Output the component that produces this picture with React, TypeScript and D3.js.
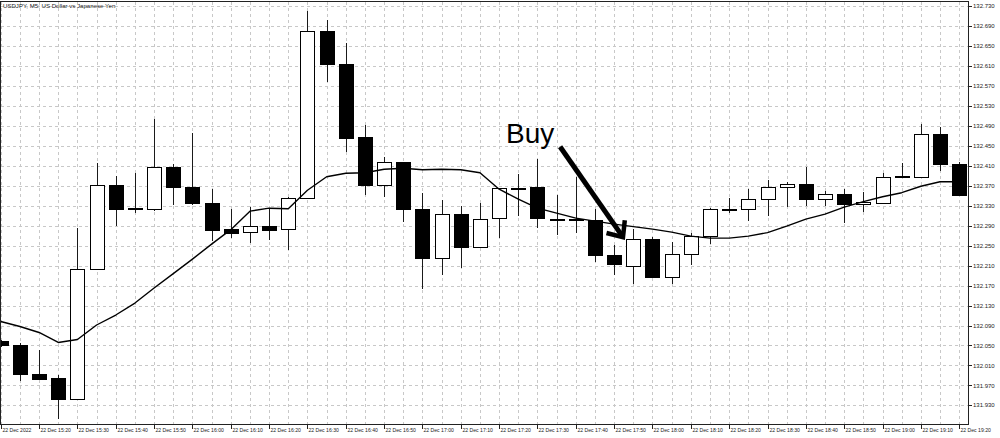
import React from "react";
import * as d3 from "d3";

const W = 1000;
const H = 438;

// USDJPY M5 candles, 22 Dec 2022 15:10 .. 19:20
const opens = [
  132.058, 132.051, 131.992, 131.984, 131.942, 132.203, 132.371, 132.325, 132.323, 132.407,
  132.367, 132.335, 132.283, 132.277, 132.289, 132.283, 132.346, 132.680, 132.614, 132.468,
  132.371, 132.418, 132.323, 132.225, 132.313, 132.247, 132.305, 132.365, 132.367, 132.303,
  132.303, 132.301, 132.231, 132.210, 132.263, 132.188, 132.233, 132.270, 132.323, 132.323,
  132.343, 132.367, 132.373, 132.343, 132.353, 132.333, 132.336, 132.388, 132.388, 132.473,
  132.413,
];
const highs = [
  132.061, 132.055, 132.041, 131.991, 132.285, 132.415, 132.389, 132.395, 132.503, 132.413,
  132.475, 132.363, 132.323, 132.327, 132.324, 132.347, 132.719, 132.702, 132.655, 132.492,
  132.427, 132.418, 132.356, 132.341, 132.329, 132.336, 132.365, 132.394, 132.423, 132.351,
  132.388, 132.323, 132.252, 132.283, 132.267, 132.258, 132.276, 132.325, 132.345, 132.363,
  132.381, 132.378, 132.408, 132.360, 132.363, 132.358, 132.395, 132.415, 132.494, 132.488,
  132.418,
];
const lows = [
  132.047, 131.979, 131.982, 131.902, 131.941, 132.203, 132.289, 132.315, 132.319, 132.331,
  132.331, 132.259, 132.266, 132.255, 132.261, 132.241, 132.346, 132.578, 132.438, 132.351,
  132.348, 132.298, 132.163, 132.191, 132.205, 132.247, 132.265, 132.309, 132.285, 132.271,
  132.276, 132.218, 132.191, 132.173, 132.188, 132.173, 132.211, 132.253, 132.315, 132.300,
  132.309, 132.328, 132.329, 132.329, 132.295, 132.318, 132.336, 132.388, 132.388, 132.400,
  132.351,
];
const closes = [
  132.050, 131.993, 131.983, 131.943, 132.203, 132.371, 132.324, 132.324, 132.407, 132.367,
  132.335, 132.282, 132.276, 132.289, 132.282, 132.346, 132.680, 132.614, 132.465, 132.371,
  132.418, 132.323, 132.225, 132.313, 132.247, 132.303, 132.365, 132.366, 132.305, 132.303,
  132.303, 132.231, 132.213, 132.263, 132.188, 132.233, 132.270, 132.323, 132.323, 132.343,
  132.367, 132.373, 132.343, 132.353, 132.333, 132.338, 132.388, 132.389, 132.473, 132.413,
  132.351,
];
// moving average values, one per candle
const maValues = [
  132.098, 132.088, 132.076, 132.056, 132.062, 132.091, 132.111, 132.135, 132.165, 132.194,
  132.223, 132.253, 132.282, 132.319, 132.325, 132.324, 132.361, 132.388, 132.395, 132.396,
  132.403, 132.405, 132.402, 132.403, 132.402, 132.396, 132.363, 132.343, 132.325, 132.315,
  132.305, 132.299, 132.293, 132.288, 132.283, 132.277, 132.269, 132.265, 132.265, 132.269,
  132.276, 132.289, 132.303, 132.313, 132.327, 132.338, 132.348, 132.356, 132.369, 132.378,
  132.378,
];

const priceTicks = [
  132.73, 132.69, 132.65, 132.61, 132.57, 132.53, 132.49, 132.45, 132.41, 132.37, 132.33,
  132.29, 132.25, 132.21, 132.17, 132.13, 132.09, 132.05, 132.01, 131.97, 131.93,
];
const timeTickLabels = [
  "22 Dec 2022", "22 Dec 15:20", "22 Dec 15:30", "22 Dec 15:40", "22 Dec 15:50",
  "22 Dec 16:00", "22 Dec 16:10", "22 Dec 16:20", "22 Dec 16:30", "22 Dec 16:40",
  "22 Dec 16:50", "22 Dec 17:00", "22 Dec 17:10", "22 Dec 17:20", "22 Dec 17:30",
  "22 Dec 17:40", "22 Dec 17:50", "22 Dec 18:00", "22 Dec 18:10", "22 Dec 18:20",
  "22 Dec 18:30", "22 Dec 18:40", "22 Dec 18:50", "22 Dec 19:00", "22 Dec 19:10",
  "22 Dec 19:20",
];

// annotation (minutes after 15:10, price)
const buyText = { min: 131.8, price: 132.455, label: "Buy" };
const buyArrow = { fromMin: 145.9, fromPrice: 132.448, toMin: 162.3, toPrice: 132.267 };

const title = "USDJPY, M5:  US Dollar vs Japanese Yen";

export default function App() {
  const start = new Date(2022, 11, 22, 15, 10);
  const end = new Date(2022, 11, 22, 19, 20);
  const plotLeft = 0.5;
  const plotTop = 1.5;
  const plotRight = 968.5;
  const plotBottom = 424.5;

  const x = d3.scaleTime().domain([start, end]).range([0.75, 959.2]);
  const y = d3.scaleLinear().domain([131.8927, 132.74]).range([424, 1]);
  const tAt = (i: number) => d3.timeMinute.offset(start, 5 * i);
  const tMin = (m: number) => new Date(start.getTime() + m * 60000);
  const crisp = (v: number) => Math.round(v) + 0.5;

  const candleIdx = d3.range(opens.length);
  const gridTimes = candleIdx.map(tAt);
  const labelTimes = x.ticks(d3.timeMinute.every(10) as any);

  const maLine = d3
    .line<number>()
    .x((_, i) => x(tAt(i)))
    .y((d) => y(d))(maValues) as string;

  // arrow geometry
  const ax1 = x(tMin(buyArrow.fromMin));
  const ay1 = y(buyArrow.fromPrice);
  const ax2 = x(tMin(buyArrow.toMin));
  const ay2 = y(buyArrow.toPrice);
  const back = Math.atan2(ay1 - ay2, ax1 - ax2);
  const headLen = 17;
  const headAng = (41 * Math.PI) / 180;
  const h1 = [ax2 + headLen * Math.cos(back - headAng), ay2 + headLen * Math.sin(back - headAng)];
  const h2 = [ax2 + headLen * Math.cos(back + headAng), ay2 + headLen * Math.sin(back + headAng)];

  const gridColor = "#c8c8c8";

  return (
    <svg
      width={W}
      height={H}
      style={{ position: "fixed", left: 0, top: 0, background: "#fff" }}
      fontFamily="'Liberation Sans', Arial, sans-serif"
    >
      <rect x={0} y={0} width={W} height={H} fill="#fff" />
      {/* grid */}
      <g stroke={gridColor} strokeWidth={1} strokeDasharray="3,3" shapeRendering="crispEdges">
        {priceTicks.map((p) => (
          <line key={"h" + p} x1={plotLeft} x2={plotRight} y1={crisp(y(p))} y2={crisp(y(p))} />
        ))}
        {gridTimes.map((t, i) => (
          <line key={"v" + i} x1={crisp(x(t))} x2={crisp(x(t))} y1={plotTop} y2={plotBottom} />
        ))}
      </g>

      {/* candles */}
      <g shapeRendering="crispEdges">
        {candleIdx.map((i) => {
          const cx = crisp(x(tAt(i)));
          const o = opens[i];
          const c = closes[i];
          const bull = c >= o;
          const yTop = Math.round(y(Math.max(o, c)));
          const yBot = Math.round(y(Math.min(o, c)));
          const hgt = Math.max(yBot - yTop, 1);
          return (
            <g key={"c" + i}>
              <line x1={cx} x2={cx} y1={y(highs[i])} y2={y(lows[i])} stroke="#1a1a1a" strokeWidth={1} />
              <rect
                x={cx - 7}
                y={yTop + 0.5}
                width={14}
                height={hgt}
                fill={bull ? "#fff" : "#000"}
                stroke="#000"
                strokeWidth={1}
              />
            </g>
          );
        })}
      </g>

      {/* moving average */}
      <path d={maLine} fill="none" stroke="#000" strokeWidth={1.4} strokeLinejoin="round" />

      {/* frame */}
      <rect
        x={plotLeft}
        y={plotTop}
        width={plotRight - plotLeft}
        height={plotBottom - plotTop}
        fill="none"
        stroke="#222"
        strokeWidth={1}
        shapeRendering="crispEdges"
      />

      {/* right axis */}
      <g fontSize={6} fill="#222">
        {priceTicks.map((p) => (
          <g key={"pt" + p}>
            <line x1={plotRight} x2={plotRight + 3} y1={crisp(y(p))} y2={crisp(y(p))} stroke="#222" shapeRendering="crispEdges" />
            <text x={plotRight + 4.5} y={y(p)} dy="0.35em">
              {p.toFixed(3)}
            </text>
          </g>
        ))}
      </g>

      {/* bottom axis */}
      <g fontSize={5.1} fill="#222">
        {labelTimes.map((t, i) => (
          <g key={"tt" + i}>
            <line x1={crisp(x(t))} x2={crisp(x(t))} y1={plotBottom} y2={plotBottom + 4} stroke="#222" shapeRendering="crispEdges" />
            <text x={crisp(x(t)) + 1} y={431.8}>
              {timeTickLabels[i]}
            </text>
          </g>
        ))}
      </g>

      {/* title */}
      <text x={3} y={8.2} fontSize={6.1} fill="#222">
        {title}
      </text>

      {/* Buy annotation */}
      <text x={x(tMin(buyText.min))} y={y(buyText.price)} fontSize={28} fill="#000">
        {buyText.label}
      </text>
      <line x1={ax1} y1={ay1} x2={ax2} y2={ay2} stroke="#000" strokeWidth={5} />
      <polyline
        points={`${h1[0]},${h1[1]} ${ax2},${ay2} ${h2[0]},${h2[1]}`}
        fill="none"
        stroke="#000"
        strokeWidth={4.5}
        strokeLinejoin="miter"
      />
    </svg>
  );
}
